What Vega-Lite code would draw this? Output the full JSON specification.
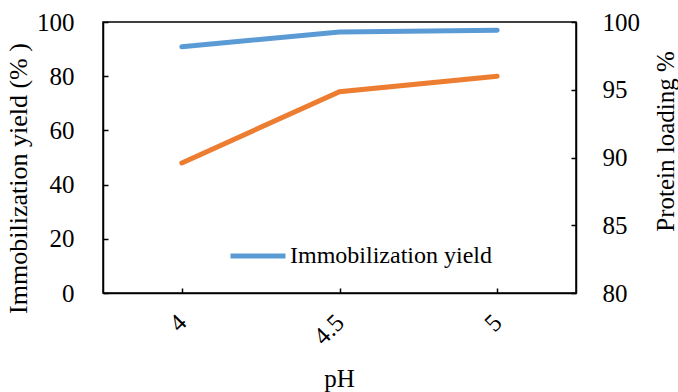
{
  "$schema": "https://vega.github.io/schema/vega-lite/v6.json",
  "width": 473,
  "height": 271,
  "autosize": "none",
  "padding": {"left": 103, "top": 22, "right": 102, "bottom": 99},
  "background": "white",
  "config": {
    "font": "Liberation Serif",
    "view": {"stroke": "black", "strokeWidth": 1.5},
    "axis": {
      "labelFont": "Liberation Serif",
      "titleFont": "Liberation Serif",
      "labelFontSize": 25,
      "titleFontSize": 26,
      "labelColor": "black",
      "titleColor": "black",
      "titleFontWeight": "normal",
      "domainColor": "black",
      "domainWidth": 1.5,
      "tickColor": "black",
      "tickWidth": 1.5,
      "tickSize": -5,
      "grid": false
    },
    "legend": {"labelFont": "Liberation Serif", "labelFontSize": 24, "labelColor": "black", "labelLimit": 400}
  },
  "data": {
    "values": [
      {"pH": "4", "yield": 90.9, "loading": 89.6},
      {"pH": "4.5", "yield": 96.3, "loading": 94.86},
      {"pH": "5", "yield": 97.0, "loading": 96.0}
    ]
  },
  "encoding": {
    "x": {
      "field": "pH",
      "type": "ordinal",
      "scale": {"type": "point", "padding": 0.5},
      "axis": {"title": "pH", "labelFont": "Liberation Serif", "titleFont": "Liberation Serif", "labelAngle": -45, "labelAlign": "right", "labelBaseline": "middle", "labelPadding": 30, "titleX": 236, "titleY": 85, "titleAlign": "center", "titleBaseline": "middle", "titleFontSize": 25}
    }
  },
  "layer": [
    {
      "mark": {"type": "line", "strokeWidth": 5, "strokeCap": "round"},
      "encoding": {
        "y": {
          "field": "yield",
          "type": "quantitative",
          "scale": {"domain": [0, 100], "nice": false},
          "axis": {"title": "Immobilization yield (% )", "labelFont": "Liberation Serif", "titleFont": "Liberation Serif", "values": [0, 20, 40, 60, 80, 100], "labelPadding": 34, "titleX": -85, "titleY": 156, "titleAngle": 270, "titleAlign": "center", "titleBaseline": "middle"}
        },
        "color": {
          "datum": "Immobilization yield",
          "type": "nominal",
          "scale": {"range": ["#5B9BD5"]},
          "legend": {"title": null, "labelFont": "Liberation Serif", "orient": "none", "legendX": 125, "legendY": 204, "symbolType": "stroke", "symbolSize": 3025, "symbolStrokeWidth": 5, "labelOffset": 2}
        }
      }
    },
    {
      "mark": {"type": "line", "strokeWidth": 5, "strokeCap": "round", "color": "#ED7D31"},
      "encoding": {
        "y": {
          "field": "loading",
          "type": "quantitative",
          "scale": {"domain": [80, 100], "nice": false},
          "axis": {"title": "Protein loading %", "labelFont": "Liberation Serif", "titleFont": "Liberation Serif", "orient": "right", "values": [80, 85, 90, 95, 100], "labelPadding": 31, "titleX": 89, "titleY": 119, "titleAngle": 270, "titleAlign": "center", "titleBaseline": "middle", "titleFontSize": 25}
        }
      }
    }
  ],
  "resolve": {"scale": {"y": "independent"}}
}
